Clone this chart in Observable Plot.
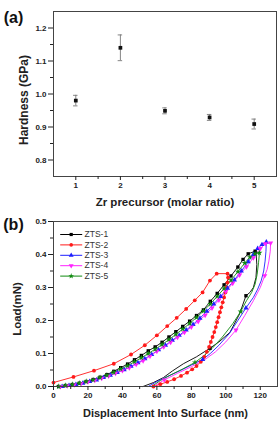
<!DOCTYPE html>
<html><head><meta charset="utf-8">
<script src="https://cdn.jsdelivr.net/npm/d3@7"></script>
<script src="https://cdn.jsdelivr.net/npm/@observablehq/plot@0.6"></script>
<style>
body{margin:0;background:#fff;}
#wrap{width:280px;}
#wrap svg{display:block;overflow:visible;}
</style>
</head><body><div id="wrap"></div>
<script>
// ---------- Panel (a) data ----------
const zrRatio = [1, 2, 3, 4, 5];
const hardness = [0.98, 1.14, 0.949, 0.929, 0.909];
const hardnessErr = [0.016, 0.039, 0.009, 0.009, 0.015];
const aXTicks = [1, 2, 3, 4, 5];
const aXMinor = [1.5, 2.5, 3.5, 4.5];
const aYTicks = [0.8, 0.9, 1.0, 1.1, 1.2];
const aYMinor = [0.85, 0.95, 1.05, 1.15];

// ---------- Panel (b) data ----------
const seriesNames = ["ZTS-1", "ZTS-2", "ZTS-3", "ZTS-4", "ZTS-5"];
// loading segments (markers on every point)
const zts1LoadX = [3,7,11,15,19,23,27,31,35,39,43,47,51,55,59,63,67,71,75,79,83,87,91,95,99,103,107,110,113,117];
const zts1LoadY = [0,0.003,0.006,0.010,0.015,0.021,0.028,0.036,0.046,0.057,0.068,0.081,0.094,0.108,0.120,0.134,0.150,0.166,0.182,0.198,0.215,0.232,0.258,0.282,0.308,0.335,0.362,0.385,0.402,0.410];
const zts2LoadX = [0,11.6,23.5,35,45,53,60,66,71.5,77,82,86.5,90.8,94.7];
const zts2LoadY = [0.012,0.029,0.048,0.069,0.097,0.125,0.155,0.183,0.208,0.235,0.261,0.285,0.321,0.342];
const zts3LoadX = [5,9,13,17,21,25,29,33,37,41,45,49,53,57,61,65,69,73,77,81,85,89,93,97,101,105,109,113,116,118.5,121,123.5];
const zts3LoadY = [0,0.003,0.006,0.010,0.015,0.020,0.027,0.034,0.042,0.051,0.061,0.072,0.084,0.097,0.111,0.125,0.140,0.155,0.171,0.188,0.207,0.228,0.250,0.273,0.298,0.323,0.350,0.378,0.400,0.418,0.430,0.438];
const zts4LoadX = [4,8,12,16,20,24,28,32,36,40,44,48,52,56,60,64,68,72,76,80,84,88,92,96,100,104,108,112,116,120,123,126];
const zts4LoadY = [0,0.002,0.005,0.009,0.014,0.019,0.025,0.032,0.040,0.048,0.057,0.067,0.078,0.092,0.107,0.120,0.134,0.149,0.164,0.180,0.197,0.216,0.238,0.262,0.288,0.313,0.338,0.363,0.390,0.418,0.433,0.435];
const zts5LoadX = [3,7,11,15,19,23,27,31,35,39,43,47,51,55,59,63,67,71,75,79,83,87,91,95,99,103,107,111,114,117,119.5];
const zts5LoadY = [0,0.003,0.006,0.010,0.015,0.020,0.027,0.034,0.043,0.053,0.063,0.075,0.087,0.100,0.113,0.127,0.142,0.158,0.174,0.191,0.209,0.229,0.250,0.273,0.297,0.322,0.348,0.374,0.392,0.402,0.405];
// unloading segments
const zts1UnloadX = [117.5,118,117.5,116,114,111.7,108,102.4,96,90.8,83,75.4,69,63.8,58,52];
const zts1UnloadY = [0.41,0.37,0.33,0.30,0.285,0.275,0.22,0.164,0.135,0.116,0.09,0.069,0.047,0.027,0.012,0];
const zts2UnloadX = [101,101.3,101,100.5,99.8,99,98.2,97.4,96.6,95.8,95,94.2,93.3,92.3,91.3,90.3,89,87.5,85.5,83,80.5,77.5,74,70,66,62,58];
const zts2UnloadY = [0.342,0.33,0.315,0.30,0.285,0.27,0.255,0.24,0.225,0.21,0.195,0.18,0.165,0.15,0.135,0.12,0.105,0.09,0.075,0.062,0.052,0.042,0.032,0.022,0.014,0.007,0];
const zts3UnloadX = [123.5,123.3,122.8,122,120.5,118.5,116,111.7,107,102,96,91,86.6,80,73,66,60,55];
const zts3UnloadY = [0.438,0.41,0.38,0.35,0.32,0.295,0.27,0.238,0.20,0.16,0.125,0.10,0.082,0.065,0.047,0.03,0.015,0];
const zts4UnloadX = [126,125.8,125,124,122.6,120,116,111,105.9,100,94,88,80,72,64.3,58];
const zts4UnloadY = [0.435,0.41,0.38,0.355,0.336,0.30,0.26,0.215,0.171,0.135,0.105,0.082,0.06,0.04,0.02,0];
const zts5UnloadX = [119.5,119,118.2,117,115,112,108.6,104,98,92,87,82.1,75,68,62,57];
const zts5UnloadY = [0.405,0.375,0.34,0.31,0.285,0.26,0.227,0.19,0.15,0.115,0.092,0.073,0.053,0.035,0.018,0];
// sparse markers on the unloading curves (ZTS-2 has markers on every point)
const zts1UnloadMarkIdx = [5, 9];
const zts3UnloadMarkIdx = [7, 12];
const zts4UnloadMarkIdx = [4, 8, 14];
const zts5UnloadMarkIdx = [6, 11];
const bXTicks = [0, 20, 40, 60, 80, 100, 120];
const bXMinor = [10, 30, 50, 70, 90, 110];
const bYTicks = [0, 0.1, 0.2, 0.3, 0.4, 0.5];
const bYMinor = [0.05, 0.15, 0.25, 0.35, 0.45];

// ---------- build ----------
const font = "'Liberation Sans', Arial, sans-serif";
const ink = "#222";
const fmt1 = d3.format(".1f");
const fmtInt = d3.format("d");

const ptsA = zrRatio.map((x, i) => ({x, y: hardness[i], e: hardnessErr[i]}));
const errStroke = "#777";
const label = (t, o) => Plot.text([t], {text: d => d, textAnchor: "middle", lineAnchor: "middle", fontWeight: "bold", fill: ink, ...o});

const plotA = Plot.plot({
  width: 280, height: 210,
  marginLeft: 53, marginRight: 4, marginTop: 11, marginBottom: 34,
  style: {fontFamily: font, background: "#fff", color: ink, overflow: "visible"},
  x: {domain: [0.5, 5.5], label: null},
  y: {domain: [0.75, 1.25], label: null},
  marks: [
    Plot.ruleX(ptsA, {x: "x", y1: d => d.y - d.e, y2: d => d.y + d.e, stroke: errStroke, strokeWidth: 0.9}),
    Plot.ruleY(ptsA, {y: d => d.y - d.e, x1: d => d.x - 0.05, x2: d => d.x + 0.05, stroke: errStroke, strokeWidth: 0.9}),
    Plot.ruleY(ptsA, {y: d => d.y + d.e, x1: d => d.x - 0.05, x2: d => d.x + 0.05, stroke: errStroke, strokeWidth: 0.9}),
    Plot.dot(ptsA, {x: "x", y: "y", symbol: "square", fill: "#111", r: 2.1}),
    Plot.frame({stroke: "#444", strokeWidth: 1}),
    Plot.axisY({ticks: aYTicks, tickSize: 5, tickPadding: 2, tickFormat: fmt1, fontSize: 8, fontWeight: "bold", label: null}),
    Plot.axisY({ticks: aYMinor, tickSize: 3, tickFormat: () => "", label: null}),
    Plot.axisX({ticks: aXTicks, tickSize: 4, tickPadding: 2, tickFormat: fmtInt, fontSize: 8, fontWeight: "bold", label: null}),
    Plot.axisX({ticks: aXMinor, tickSize: 3, tickFormat: () => "", label: null}),
    label("Zr precursor (molar ratio)", {frameAnchor: "bottom", dy: 26, fontSize: 11.5}),
    label("Hardness (GPa)", {frameAnchor: "left", dx: -29, dy: 6, rotate: -90, fontSize: 12}),
    label("(a)", {frameAnchor: "top-left", dx: -40, dy: 6, fontSize: 16, fill: "#111"})
  ]
});

// panel b table
const loads = [[zts1LoadX, zts1LoadY], [zts2LoadX, zts2LoadY], [zts3LoadX, zts3LoadY], [zts4LoadX, zts4LoadY], [zts5LoadX, zts5LoadY]];
const unloads = [[zts1UnloadX, zts1UnloadY], [zts2UnloadX, zts2UnloadY], [zts3UnloadX, zts3UnloadY], [zts4UnloadX, zts4UnloadY], [zts5UnloadX, zts5UnloadY]];
const unloadMarks = [zts1UnloadMarkIdx, null, zts3UnloadMarkIdx, zts4UnloadMarkIdx, zts5UnloadMarkIdx];
const lineRows = [], dotRows = [];
seriesNames.forEach((name, s) => {
  const [lx, ly] = loads[s], [ux, uy] = unloads[s];
  lx.forEach((x, i) => { const r = {name, x, y: ly[i]}; lineRows.push(r); dotRows.push(r); });
  ux.forEach((x, i) => {
    const r = {name, x, y: uy[i]};
    lineRows.push(r);
    if (unloadMarks[s] === null || unloadMarks[s].includes(i)) dotRows.push(r);
  });
});
const colors = ["#000000", "#ff1a1a", "#1f1fff", "#ff22ff", "#108a10"];
const symbols = ["square", "circle", "triangle", "triangle", "star"];
const rot = name => (name === "ZTS-4" ? 180 : 0);
const lineSym = {draw(ctx) { ctx.moveTo(-11, 0); ctx.lineTo(11, 0); }};

const legendMarks = seriesNames.flatMap((name, i) => [
  Plot.dot([name], {frameAnchor: "top-left", dx: 17.7, dy: 13 + 10.4 * i, symbol: lineSym, stroke: colors[i], strokeWidth: 1, fill: "none"}),
  Plot.dot([name], {frameAnchor: "top-left", dx: 17.7, dy: 13 + 10.4 * i, symbol: symbols[i], rotate: rot(name), fill: colors[i], r: 1.8}),
  Plot.text([name], {text: d => d, frameAnchor: "top-left", dx: 31, dy: 13 + 10.4 * i, textAnchor: "start", lineAnchor: "middle", fontSize: 8.5, fill: "#333"})
]);

const plotB = Plot.plot({
  width: 280, height: 219,
  marginLeft: 53, marginRight: 3, marginTop: 11, marginBottom: 43,
  style: {fontFamily: font, background: "#fff", color: ink, overflow: "visible"},
  x: {domain: [0, 130], label: null},
  y: {domain: [0, 0.5], label: null},
  color: {domain: seriesNames, range: colors},
  symbol: {domain: seriesNames, range: symbols},
  marks: [
    Plot.line(lineRows, {x: "x", y: "y", z: "name", stroke: "name", strokeWidth: 0.9}),
    Plot.dot(dotRows, {x: "x", y: "y", fill: "name", symbol: "name", rotate: d => rot(d.name), r: 1.9}),
    Plot.frame({stroke: "#444", strokeWidth: 1}),
    Plot.axisY({ticks: bYTicks, tickSize: 5, tickPadding: 2, tickFormat: fmt1, fontSize: 8, fontWeight: "bold", label: null}),
    Plot.axisY({ticks: bYMinor, tickSize: 3, tickFormat: () => "", label: null}),
    Plot.axisX({ticks: bXTicks, tickSize: 4, tickPadding: 2, tickFormat: fmtInt, fontSize: 8, fontWeight: "bold", label: null}),
    Plot.axisX({ticks: bXMinor, tickSize: 3, tickFormat: () => "", label: null}),
    ...legendMarks,
    label("Displacement Into Surface (nm)", {frameAnchor: "bottom", dy: 27, fontSize: 11}),
    label("Load(mN)", {frameAnchor: "left", dx: -36, dy: 5, rotate: -90, fontSize: 11.5}),
    label("(b)", {frameAnchor: "top-left", dx: -40, dy: 3, fontSize: 16, fill: "#111"})
  ]
});

const wrap = document.getElementById("wrap");
wrap.appendChild(plotA);
wrap.appendChild(plotB);
</script></body></html>
